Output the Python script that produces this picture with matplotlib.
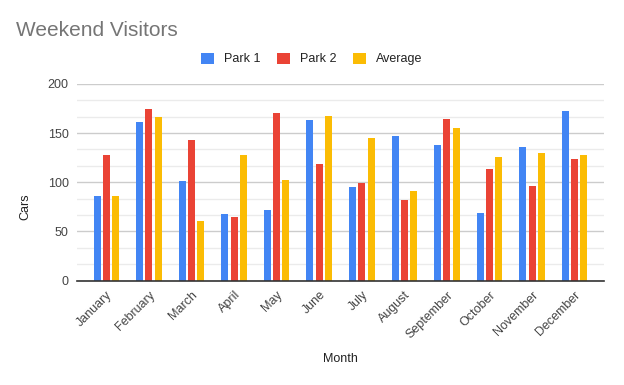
import numpy as np
from matplotlib import pyplot as plt
from matplotlib.ticker import MultipleLocator

plt.rcParams['font.family'] = ['Liberation Sans', 'DejaVu Sans']

months  = ['January', 'February', 'March', 'April', 'May', 'June', 'July',
           'August', 'September', 'October', 'November', 'December']
park1   = [86, 161, 101, 68, 72, 163, 95, 147, 138, 69, 136, 173]
park2   = [128, 175, 143, 65, 170, 119, 99, 82, 164, 113, 96, 124]
average = [86, 166, 61, 128, 102, 167, 145, 91, 155, 126, 130, 128]

series = [('Park 1', park1, '#4285F4'),
          ('Park 2', park2, '#EA4335'),
          ('Average', average, '#FBBC04')]

W, H = 624, 385
fig = plt.figure(figsize=(W / 100, H / 100), dpi=100)
ax = fig.add_axes([77 / W, 1 - 280.5 / H, (604 - 77) / W, (280.5 - 84) / H])

x = np.arange(len(months))
width, step = 0.164, 0.218
for i, (name, vals, col) in enumerate(series):
    ax.bar(x + (i - 1) * step, vals, width, color=col, label=name, zorder=3)

ax.set_xlim(-0.69, len(months) - 1 + 0.69)
ax.set_ylim(0, 200)
ax.yaxis.set_major_locator(MultipleLocator(50))
ax.yaxis.set_minor_locator(MultipleLocator(50 / 3))
ax.grid(axis='y', which='major', color='#cccccc', lw=1, zorder=0)
ax.grid(axis='y', which='minor', color='#ebebeb', lw=1, zorder=0)
for s in ['top', 'right', 'left']:
    ax.spines[s].set_visible(False)
ax.spines['bottom'].set_color('#333333')
ax.spines['bottom'].set_linewidth(1.2)
ax.spines['bottom'].set_zorder(4)
ax.tick_params(axis='both', length=0, labelsize=9, labelcolor='#444444')
ax.tick_params(axis='y', which='minor', length=0)
ax.tick_params(axis='y', pad=6)
ax.set_xticks(x)
ax.set_xticklabels(months, rotation=45, ha='right', rotation_mode='anchor')
ax.tick_params(axis='x', pad=6)

fig.text(16 / W, 1 - 36 / H, 'Weekend Visitors', fontsize=15, color='#757575',
         ha='left', va='baseline')
fig.text(25 / W, 1 - 207 / H, 'Cars', fontsize=9, color='#222222',
         rotation=90, ha='center', va='center')
fig.text(340.5 / W, 1 - 359 / H, 'Month', fontsize=9, color='#222222',
         ha='center', va='center')

fig.legend(loc='center', bbox_to_anchor=(311.5 / W, 1 - 59 / H), ncol=3,
           frameon=False, fontsize=9, handlelength=1.0, handleheight=1.0,
           handletextpad=0.8, columnspacing=1.36, labelcolor='#222222')

fig.savefig('out.png', dpi=100)
